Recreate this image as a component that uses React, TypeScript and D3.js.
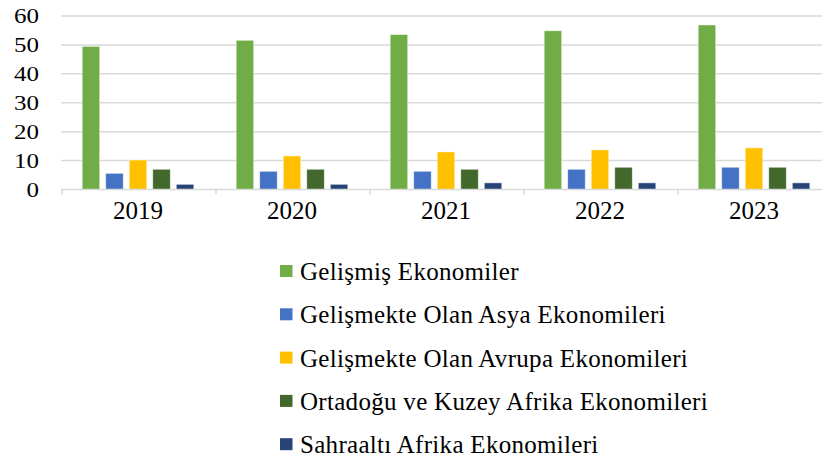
import React from "react";
import * as d3 from "d3";

const years = ["2019", "2020", "2021", "2022", "2023"];
const seriesNames = [
  "Gelişmiş Ekonomiler",
  "Gelişmekte Olan Asya Ekonomileri",
  "Gelişmekte Olan Avrupa Ekonomileri",
  "Ortadoğu ve Kuzey Afrika Ekonomileri",
  "Sahraaltı Afrika Ekonomileri",
];
const gelismis = [49.5, 51.6, 53.6, 54.9, 56.9];
const asya = [5.6, 6.3, 6.3, 7.0, 7.7];
const avrupa = [10.2, 11.6, 13.0, 13.7, 14.4];
const ortadogu = [7.0, 7.0, 7.0, 7.7, 7.7];
const sahraalti = [1.8, 1.8, 2.3, 2.3, 2.3];
const yTicks = [0, 10, 20, 30, 40, 50, 60];
const colors = ["#70AD47", "#4472C4", "#FFC000", "#43682B", "#264478"];

const seriesValues = [gelismis, asya, avrupa, ortadogu, sahraalti];

export default function App() {
  const W = 822, H = 459;
  const x = d3.scaleBand<string>().domain(years).range([61, 831]);
  const inner = d3
    .scaleBand<string>()
    .domain(seriesNames)
    .range([0, x.bandwidth()])
    .paddingInner(0.255)
    .paddingOuter(0.9);
  const y = d3.scaleLinear().domain([0, 60]).range([189.5, 16]);
  const font = "'Liberation Serif', 'Times New Roman', serif";

  return (
    <svg
      width={W}
      height={H}
      style={{ position: "absolute", left: 0, top: 0, background: "#fff" }}
    >
      {yTicks.map((t) =>
        t === 0 ? null : (
          <line key={t} x1={61} x2={W} y1={y(t)} y2={y(t)} stroke="#d9d9d9" strokeWidth={1.5} />
        )
      )}
      {yTicks.map((t) => (
        <text
          key={"l" + t}
          transform={`translate(39,${y(t) + 7}) scale(1.25,1)`}
          textAnchor="end"
          fontFamily={font}
          fontSize={20}
          fill="#000"
        >
          {t}
        </text>
      ))}
      {seriesValues.map((vals, si) =>
        years.map((yr, i) => (
          <rect
            key={si + "-" + yr}
            x={(x(yr) as number) + (inner(seriesNames[si]) as number)}
            y={y(vals[i])}
            width={inner.bandwidth()}
            height={y(0) - y(vals[i])}
            fill={colors[si]}
            stroke="#ffffff"
            strokeOpacity={0.6}
            strokeWidth={0.8}
          />
        ))
      )}
      <line x1={61} x2={W} y1={y(0)} y2={y(0)} stroke="#d9d9d9" strokeWidth={1.5} />
      {[...years.map((yr) => x(yr) as number), 831].map((px, i) => (
        <line key={"t" + i} x1={px + 1} x2={px + 1} y1={y(0)} y2={y(0) + 5} stroke="#d9d9d9" strokeWidth={1.5} />
      ))}
      {years.map((yr) => (
        <text
          key={"x" + yr}
          x={(x(yr) as number) + x.bandwidth() / 2}
          y={219}
          textAnchor="middle"
          fontFamily={font}
          fontSize={25}
          fill="#000"
        >
          {yr}
        </text>
      ))}
      {seriesNames.map((name, i) => {
        const cy = 271 + i * 43.3;
        return (
          <g key={"lg" + i}>
            <rect x={280} y={cy - 6} width={12.5} height={12} fill={colors[i]} />
            <text x={300} y={cy + 9} fontFamily={font} fontSize={25} fill="#000" letterSpacing={0.3}>
              {name}
            </text>
          </g>
        );
      })}
    </svg>
  );
}
